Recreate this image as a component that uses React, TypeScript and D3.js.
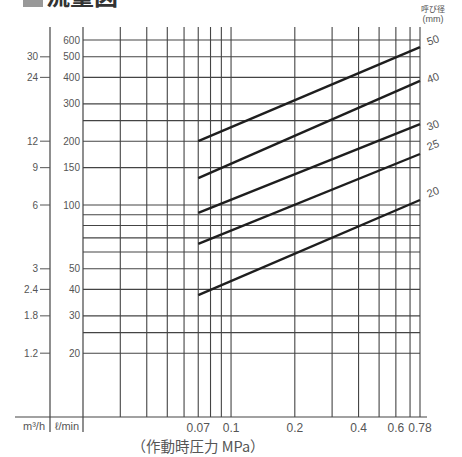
import React from 'react'
import * as d3 from 'd3'

// nominal sizes (mm) and flow (l/min) at 0.07 MPa and 0.78 MPa
const sizes = ['20', '25', '30', '40', '50']
const flowAtStart = [37.6, 65.5, 91.7, 134, 200]
const flowAtEnd = [105.6, 174, 241, 385, 556]
const pressureRange = [0.07, 0.78]
const labelNudge = [-8, -9, 1, -3, -7]

const lpmTicks = [600, 500, 400, 300, 200, 150, 100, 50, 40, 30, 20]
const m3hTicks = [30, 24, 12, 9, 6, 3, 2.4, 1.8, 1.2]
const flowGrid = [600, 500, 400, 300, 250, 200, 150, 100, 90, 80, 70, 60, 50, 40, 30, 25, 20]
const pressureGrid = [0.03, 0.04, 0.05, 0.06, 0.07, 0.08, 0.09, 0.1, 0.2, 0.3, 0.4, 0.5, 0.6, 0.7, 0.78]
const pressureTicks = ['0.07', '0.1', '0.2', '0.4', '0.6', '0.78']

const W = 462
const H = 457
const plotTop = 27
const m3hAxisX = 50

const x = d3.scaleLog().domain([0.02, 0.78]).range([83, 420])
const y = d3.scaleLog().domain([10, 100]).range([417, 205])

const latin = '"Liberation Sans", Arial, sans-serif'
const cjk = '"Noto Sans CJK JP", sans-serif'
const textColor = '#555'
const gridColor = '#444'

const App = () => {
  const left = x.range()[0]
  const right = x.range()[1]
  const bottom = y(10)

  const line = d3.line<[number, number]>()
    .x(d => x(d[0]))
    .y(d => y(d[1]))

  return (
    <svg width={W} height={H} style={{ position: 'absolute', left: 0, top: 0, background: '#fff' }}>
      {/* title, cut at the top edge like the scan */}
      <rect x={23} y={-13} width={20} height={20} fill='#999' />
      <text x={46} y={5} fontFamily={cjk} fontWeight={700} fontSize={24} fill='#333'>流量図</text>

      {/* horizontal grid */}
      {flowGrid.map(v => (
        <line key={`h${v}`} x1={left} x2={right} y1={y(v)} y2={y(v)} stroke={gridColor} strokeWidth={1.1} />
      ))}
      {/* vertical grid */}
      {pressureGrid.map(v => (
        <line key={`v${v}`} x1={x(v)} x2={x(v)} y1={plotTop} y2={bottom} stroke={gridColor} strokeWidth={1.1} />
      ))}

      {/* axes */}
      <line x1={left} x2={left} y1={plotTop} y2={bottom + 15} stroke={gridColor} strokeWidth={1.2} />
      <line x1={m3hAxisX} x2={m3hAxisX} y1={plotTop} y2={bottom + 15} stroke={gridColor} strokeWidth={1.2} />
      <line x1={15} x2={427} y1={bottom} y2={bottom} stroke={gridColor} strokeWidth={1.2} />

      {/* l/min ticks */}
      {lpmTicks.map(v => (
        <text key={`l${v}`} x={left - 3} y={y(v)} dy='0.35em' textAnchor='end'
          fontFamily={latin} fontSize={10} fill={textColor}>{v}</text>
      ))}
      {/* m3/h ticks */}
      {m3hTicks.map(v => {
        const yy = y(v * 1000 / 60)
        return (
          <g key={`m${v}`}>
            <line x1={m3hAxisX - 10} x2={m3hAxisX} y1={yy} y2={yy} stroke={textColor} strokeWidth={1} />
            <text x={m3hAxisX - 12} y={yy} dy='0.35em' textAnchor='end'
              fontFamily={latin} fontSize={10} fill={textColor}>{v}</text>
          </g>
        )
      })}

      {/* pressure ticks */}
      {pressureTicks.map(t => (
        <text key={`p${t}`} x={x(+t)} y={bottom + 15} textAnchor='middle'
          fontFamily={latin} fontSize={12} fill={textColor}>{t}</text>
      ))}
      <text x={198} y={bottom + 35} textAnchor='middle' fontFamily={cjk} fontSize={14.5} fill={textColor}>
        （作動時圧力 MPa）
      </text>

      {/* unit labels */}
      <text x={34} y={bottom + 13} textAnchor='middle' fontFamily={latin} fontSize={11} fill={textColor}>m³/h</text>
      <text x={67} y={bottom + 13} textAnchor='middle' fontFamily={latin} fontSize={11} fill={textColor}>ℓ/min</text>

      {/* series */}
      {sizes.map((s, i) => (
        <path key={`s${s}`}
          d={line([[pressureRange[0], flowAtStart[i]], [pressureRange[1], flowAtEnd[i]]]) || ''}
          fill='none' stroke='#1e1e1e' strokeWidth={2.4} />
      ))}
      {sizes.map((s, i) => {
        const lx = x(pressureRange[1]) + 13
        const ly = y(flowAtEnd[i]) + labelNudge[i]
        return (
          <text key={`t${s}`} x={lx} y={ly} dy='0.35em' textAnchor='middle'
            transform={`rotate(-20, ${lx}, ${ly})`}
            fontFamily={latin} fontSize={11} fill={textColor}>{s}</text>
        )
      })}
      <text x={433} y={12} textAnchor='middle' fontFamily={cjk} fontSize={8} fill={textColor}>呼び径</text>
      <text x={433} y={22} textAnchor='middle' fontFamily={latin} fontSize={9} fill={textColor}>(mm)</text>
    </svg>
  )
}

export default App
